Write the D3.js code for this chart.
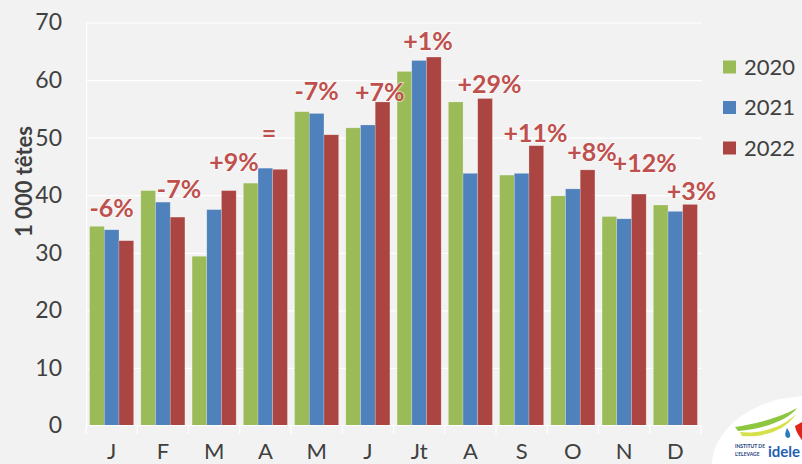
<!DOCTYPE html>
<html>
<head>
<meta charset="utf-8">
<script src="https://cdn.jsdelivr.net/npm/d3@7"></script>
<style>
  html, body { margin: 0; padding: 0; background: #f2f2f2; }
  svg { display: block; }
  text { font-family: Lato, "Noto Sans", sans-serif; }
</style>
</head>
<body>
<svg id="chart" width="802" height="464"></svg>
<script>
// ---- data ----
const months = ["J", "F", "M", "A", "M", "J", "Jt", "A", "S", "O", "N", "D"];
const years = ["2020", "2021", "2022"];
const v2020 = [34.6, 40.8, 29.4, 42.1, 54.5, 51.7, 61.5, 56.2, 43.5, 39.9, 36.3, 38.3];
const v2021 = [34.0, 38.8, 37.5, 44.7, 54.2, 52.2, 63.4, 43.8, 43.8, 41.1, 35.9, 37.2];
const v2022 = [32.1, 36.2, 40.8, 44.5, 50.5, 56.2, 64.0, 56.8, 48.6, 44.4, 40.2, 38.4];
const changeLabels = ["-6%", "-7%", "+9%", "=", "-7%", "+7%", "+1%", "+29%", "+11%", "+8%", "+12%", "+3%"];
// annotation anchors (hand placed in the original): baseline in chart units, shift in bar widths from group centre
const labelValue = [36.3, 39.5, 44.2, 49.2, 56.5, 56.3, 65.2, 57.8, 49.2, 45.9, 44.0, 39.1];
const labelShift = [0, 1.1, 1.35, 0.25, 0, 0.8, 0.6, 1.3, 0.95, 1.3, 1.4, 1.1];
const yTicks = [0, 10, 20, 30, 40, 50, 60, 70];
const yTitle = "1 000 têtes";

const series = [v2020, v2021, v2022];
const colors = ["#9bbb59", "#4f81bd", "#ab4542"];

const svg = d3.select("#chart");
const W = 802, H = 464;
svg.append("rect").attr("width", W).attr("height", H).attr("fill", "#f2f2f2");

const x = d3.scaleBand().domain(d3.range(months.length)).range([86, 701])
  .paddingInner(0.14).paddingOuter(0.07);
const xs = d3.scaleBand().domain(d3.range(years.length)).range([0, x.bandwidth()]);
const y = d3.scaleLinear().domain([0, 70]).range([425.5, 22.5]);

// gridlines
const grid = svg.append("g").attr("transform", "translate(86,0)")
  .call(d3.axisLeft(y).tickValues(yTicks.filter(d => d > 0)).tickSize(-616).tickFormat(""));
grid.select(".domain").remove();
grid.selectAll("line").attr("stroke", "#ffffff").attr("stroke-width", 1.2);

// y axis labels
const yAxis = svg.append("g").attr("transform", "translate(86,0)")
  .call(d3.axisLeft(y).tickValues(yTicks).tickSize(0).tickPadding(24));
yAxis.select(".domain").attr("stroke", "#ffffff").attr("stroke-width", 1.2);
yAxis.selectAll("text").attr("font-size", 23).attr("fill", "#404040")
  .style("font-family", "Lato, 'Noto Sans', sans-serif");

// bars
const groups = svg.append("g").selectAll("g").data(months.map((m, i) => i)).join("g")
  .attr("transform", i => `translate(${x(i)},0)`);
groups.selectAll("rect").data(i => series.map((s, k) => ({k, v: s[i]}))).join("rect")
  .attr("x", d => xs(d.k))
  .attr("width", xs.bandwidth())
  .attr("y", d => y(d.v))
  .attr("height", d => y(0) - y(d.v))
  .attr("fill", d => colors[d.k])
  .attr("stroke", "rgba(255,255,255,0.35)")
  .attr("stroke-width", 0.6);

// x axis
const boundaries = d3.range(months.length + 1).map(i => 86 + i * x.step());
svg.append("line").attr("x1", 86).attr("x2", 701).attr("y1", y(0)).attr("y2", y(0))
  .attr("stroke", "#ffffff").attr("stroke-width", 1.2);
svg.append("g").selectAll("line").data(boundaries).join("line")
  .attr("x1", d => d).attr("x2", d => d).attr("y1", y(0)).attr("y2", y(0) + 8.5)
  .attr("stroke", "#ffffff").attr("stroke-width", 1.2);
svg.append("g").selectAll("text").data(months).join("text")
  .attr("x", (d, i) => x(i) + x.bandwidth() / 2)
  .attr("y", 459)
  .attr("text-anchor", "middle")
  .attr("font-size", 22)
  .attr("fill", "#404040")
  .text(d => d);

// change annotations
svg.append("g").selectAll("text").data(changeLabels).join("text")
  .attr("x", (d, i) => x(i) + x.bandwidth() / 2 + labelShift[i] * xs.bandwidth())
  .attr("y", (d, i) => y(labelValue[i]))
  .attr("text-anchor", "middle")
  .attr("font-size", 25)
  .attr("font-weight", "bold")
  .attr("fill", "#c0504d")
  .attr("stroke", "rgba(255,255,255,0.55)")
  .attr("stroke-width", 2)
  .attr("paint-order", "stroke")
  .text(d => d);

// y title
svg.append("text")
  .attr("transform", "translate(32,181.5) rotate(-90)")
  .attr("text-anchor", "middle")
  .attr("font-size", 22)
  .attr("font-weight", "bold")
  .attr("fill", "#404040")
  .text(yTitle);

// legend
const leg = svg.append("g").selectAll("g").data(years).join("g")
  .attr("transform", (d, i) => `translate(723,${67 + i * 40.5})`);
leg.append("rect").attr("x", 0).attr("y", -6.5).attr("width", 13).attr("height", 13)
  .attr("fill", (d, i) => colors[i]);
leg.append("text").attr("x", 21).attr("y", 0).attr("dy", "0.36em")
  .attr("font-size", 22).attr("fill", "#404040").text(d => d);

// logo (approximation)
const logo = svg.append("g");
logo.append("path").attr("d", "M712,464 C712,440 735,410 780,399 L802,396 L802,464 Z").attr("fill", "#ffffff");
logo.append("path").attr("d", "M735,427 C752,424 775,420 797,408 C790,418 770,428 738,431 Z").attr("fill", "#8dc63f");
logo.append("path").attr("d", "M740,432 C760,434 782,428 796,414 C786,430 764,438 742,436 Z").attr("fill", "#d5e04a");
logo.append("path").attr("d", "M787,428 C785,433 784,437 788,438 C792,437 790,433 787,428 Z").attr("fill", "#2a7ac0");
logo.append("path").attr("d", "M795,426 L802,422 L802,440 C799,436 796,432 795,426 Z").attr("fill", "#e2231a");
logo.append("text").attr("x", 735).attr("y", 448).attr("font-size", 5).attr("font-weight", "bold")
  .attr("fill", "#1d3b7a").text("INSTITUT DE");
logo.append("text").attr("x", 735).attr("y", 456).attr("font-size", 5).attr("font-weight", "bold")
  .attr("fill", "#1d3b7a").text("L'ELEVAGE");
logo.append("text").attr("x", 768).attr("y", 457).attr("font-size", 15).attr("font-weight", "bold")
  .attr("fill", "#1f5fae").text("idele");
</script>
</body>
</html>
